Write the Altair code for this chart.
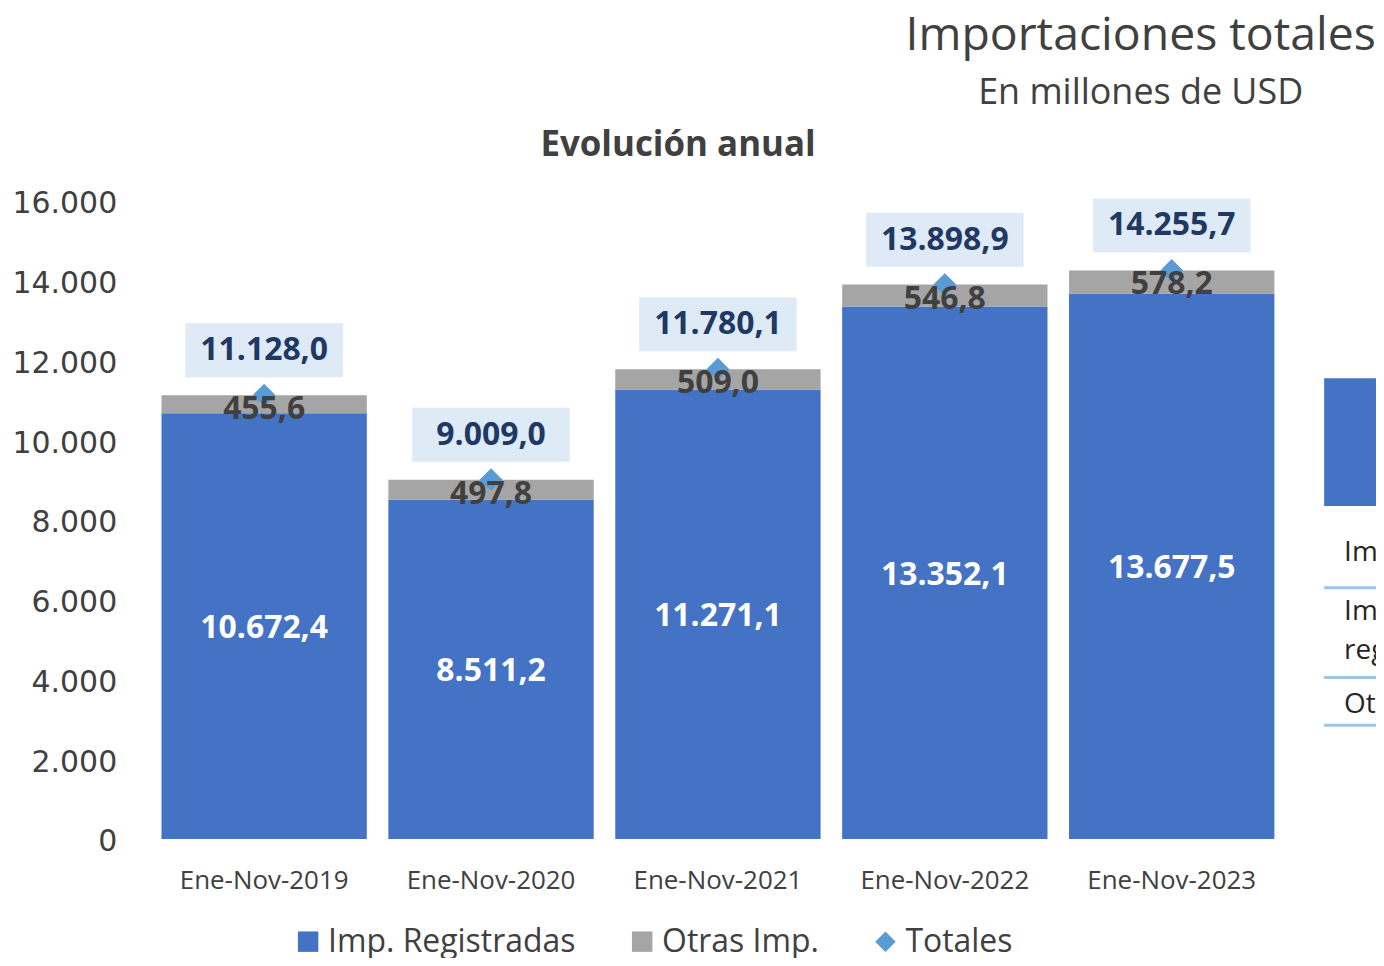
import altair as alt
import pandas as pd

# ---- data ----
periods = ["Ene-Nov-2019", "Ene-Nov-2020", "Ene-Nov-2021", "Ene-Nov-2022", "Ene-Nov-2023"]
registradas = [10672.4, 8511.2, 11271.1, 13352.1, 13677.5]
otras = [455.6, 497.8, 509.0, 546.8, 578.2]
totales = [11128.0, 9009.0, 11780.1, 13898.9, 14255.7]
series_names = ["Imp. Registradas", "Otras Imp.", "Totales"]
y_ticks = [0, 2000, 4000, 6000, 8000, 10000, 12000, 14000, 16000]
title_main = "Importaciones totales"
title_sub = "En millones de USD"
title_chart = "Evolución anual"
side_rows = ["Importaciones totales", "Importaciones", "registradas", "Otras importaciones"]

# ---- styles ----
series_colors = ["#4472C4", "#A5A5A5", "#5B9BD5"]
series_shapes = ["square", "square", "diamond"]
TXT = "#404040"
NAVY = "#1F3864"
BOX = "#DEEBF7"
FONT = "Open Sans"

bars_df = pd.DataFrame({
    "periodo": periods * 2,
    "serie": [series_names[0]] * 5 + [series_names[1]] * 5,
    "valor": registradas + otras,
    "orden": [0] * 5 + [1] * 5,
})
tot_df = pd.DataFrame({
    "periodo": periods,
    "serie": [series_names[2]] * 5,
    "total": totales,
    "otras": otras,
    "reg": registradas,
})

x_enc = alt.X(
    "periodo:N", sort=periods,
    scale=alt.Scale(paddingInner=0.095, paddingOuter=0.048),
    axis=alt.Axis(title=None, labelAngle=0, labelFont=FONT, labelFontSize=26,
                  labelColor=TXT, labelPadding=29, ticks=False, tickSize=0,
                  domain=False, grid=False),
)
y_scale = alt.Scale(domain=[0, 16000], nice=False)
y_axis = alt.Axis(title=None, values=y_ticks, format=",d", labelFont="DejaVu Sans",
                  labelFontSize=30, labelColor=TXT, labelPadding=34, labelOffset=3,
                  ticks=False, tickSize=0, domain=False, grid=False)
color_enc = alt.Color("serie:N", scale=alt.Scale(domain=series_names, range=series_colors),
                      legend=alt.Legend(title=None))
shape_enc = alt.Shape("serie:N", scale=alt.Scale(domain=series_names, range=series_shapes),
                      legend=alt.Legend(title=None))

bars = alt.Chart(bars_df).mark_bar().encode(
    x=x_enc,
    y=alt.Y("valor:Q", stack="zero", scale=y_scale, axis=y_axis),
    color=color_enc,
    order=alt.Order("orden:Q", sort="ascending"),
)

base_t = alt.Chart(tot_df).encode(x=alt.X("periodo:N", sort=periods))

diamonds = base_t.mark_point(filled=True, opacity=1, size=529, strokeWidth=0).encode(
    y=alt.Y("total:Q", scale=y_scale, axis=y_axis),
    color=color_enc,
    shape=shape_enc,
)

gray_labels = base_t.mark_text(font=FONT, fontSize=32, fontWeight="bold", color=TXT,
                               baseline="middle", dy=14).encode(
    y=alt.Y("total:Q", scale=y_scale, axis=y_axis),
    text=alt.Text("otras:Q", format=",.1f"),
)

box_path = "M-1,-0.3418L1,-0.3418L1,0.3418L-1,0.3418Z"
boxes = base_t.mark_point(shape=box_path, size=158 * 158, filled=True, opacity=1,
                          color=BOX, strokeWidth=0, yOffset=-45).encode(
    y=alt.Y("total:Q", scale=y_scale, axis=y_axis),
)

total_labels = base_t.mark_text(font=FONT, fontSize=32, fontWeight="bold", color=NAVY,
                                baseline="middle", dy=-45).encode(
    y=alt.Y("total:Q", scale=y_scale, axis=y_axis),
    text=alt.Text("total:Q", format=",.1f"),
)

white_labels = base_t.transform_calculate(mid="datum.reg / 2").mark_text(
    font=FONT, fontSize=32, fontWeight="bold", color="white", baseline="middle", dy=2
).encode(
    y=alt.Y("mid:Q", scale=y_scale, axis=y_axis),
    text=alt.Text("reg:Q", format=",.1f"),
)


def label(txt, x, y, size, weight="normal", color=TXT, align="center"):
    return alt.Chart(pd.DataFrame({"t": [txt]})).mark_text(
        font=FONT, fontSize=size, fontWeight=weight, color=color, align=align,
        baseline="alphabetic"
    ).encode(text="t:N", x=alt.value(x), y=alt.value(y))


t1 = label(title_main, 993, -151, 46.5)
t2 = label(title_sub, 993, -97, 36)
t3 = label(title_chart, 529, -45, 35, weight="bold")

side_rect = alt.Chart(pd.DataFrame({"a": [0]})).mark_rect(color="#4472C4").encode(
    x=alt.value(1177), x2=alt.value(1300), y=alt.value(178), y2=alt.value(306))
rule_layers = [
    alt.Chart(pd.DataFrame({"a": [0]})).mark_rule(color="#9DC3E6", strokeWidth=3).encode(
        x=alt.value(1177), x2=alt.value(1300), y=alt.value(yy))
    for yy in (388, 478, 526)
]
side_texts = [
    label(side_rows[0], 1197, 361, 28, color="#262626", align="left"),
    label(side_rows[1], 1197, 420, 28, color="#262626", align="left"),
    label(side_rows[2], 1197, 460, 28, color="#262626", align="left"),
    label(side_rows[3], 1197, 514, 28, color="#262626", align="left"),
]

chart = alt.layer(
    bars, diamonds, gray_labels, boxes, total_labels, white_labels,
    t1, t2, t3, side_rect, *rule_layers, *side_texts
).properties(
    width=1138, height=640,
    padding={"left": 143, "top": 192, "right": 91, "bottom": 118},
    autosize=alt.AutoSizeParams(type="none"),
    background="white",
).configure(
    locale={"number": {"decimal": ",", "thousands": ".", "grouping": [3], "currency": ["", ""]}}
).configure_view(stroke=None).configure_legend(
    orient="none", legendX=142, legendY=727, direction="horizontal",
    labelFont=FONT, labelFontSize=32, labelColor=TXT, symbolSize=420,
    labelOffset=4, columnPadding=50, symbolStrokeWidth=0, padding=0, labelLimit=500,
)

chart.save("out.html", embed_options={"renderer": "svg", "actions": False})
